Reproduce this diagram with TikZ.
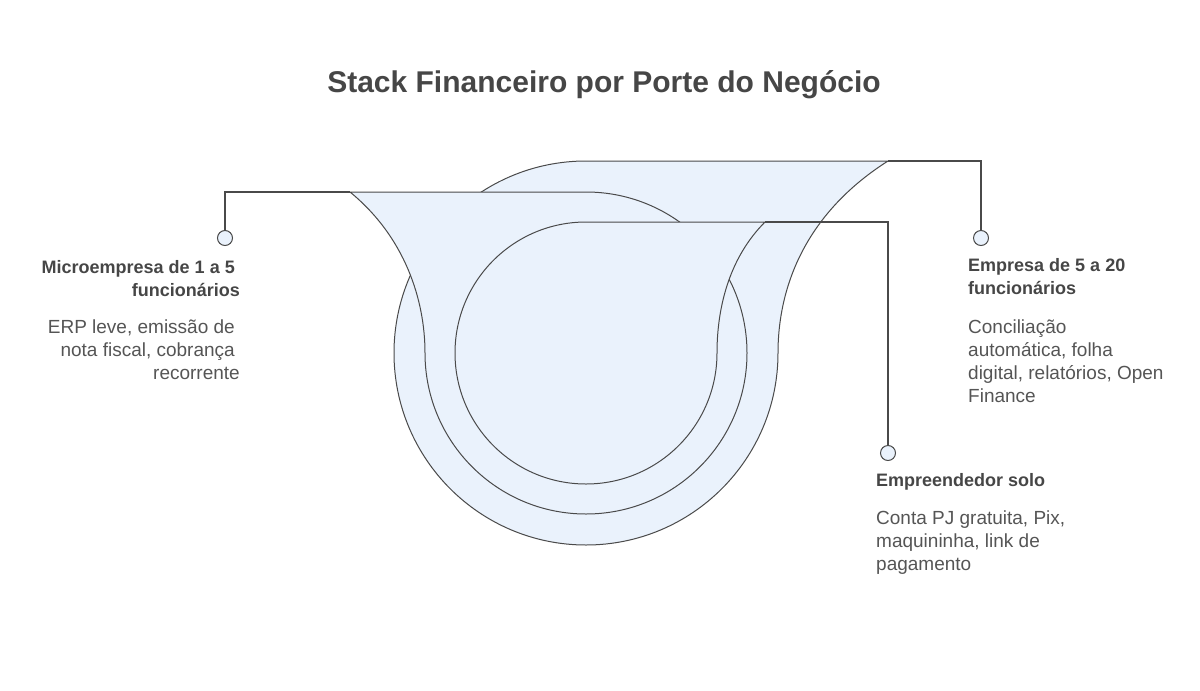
\documentclass[tikz,border=0pt]{standalone}
\usepackage{fontspec}
\setmainfont{Liberation Sans}
\definecolor{shell}{HTML}{EAF2FC}
\definecolor{ink}{HTML}{464646}
\definecolor{soft}{HTML}{555555}
\definecolor{edge}{HTML}{4A4A4A}

\begin{document}
\begin{tikzpicture}[
    x=1pt, y=1pt,
    layer/.style={draw=edge, fill=shell, line width=1pt},
    lead/.style={draw=edge, line width=1.2pt},
    dot/.style={circle, draw=edge, fill=shell, line width=1pt, minimum size=15pt, inner sep=0pt},
    head/.style={font=\fontsize{18}{23}\selectfont\bfseries, text=ink, inner sep=0pt},
    desc/.style={font=\fontsize{19}{23}\selectfont, text=soft, inner sep=0pt}
  ]
  \useasboundingbox (0,0) rectangle (1200,-691);

  \node[font=\fontsize{30}{36}\selectfont\bfseries, text=ink, anchor=base] (title) at (604,-92) {Stack Financeiro por Porte do Negócio};

  % layers, back to front
  \draw[layer] (586,-161) -- (888,-161) .. controls (803,-215) and (778,-290) .. (778,-353)
    arc[start angle=0, end angle=-270, radius=192] -- cycle;
  \draw[layer] (586,-192) -- (350,-192) .. controls (405,-237) and (425,-300) .. (425,-353)
    arc[start angle=180, end angle=450, radius=161] -- cycle;
  \draw[layer] (586,-222) -- (765,-222) .. controls (728,-259) and (717,-310) .. (717,-353)
    arc[start angle=0, end angle=-270, radius=131] -- cycle;

  \coordinate (topA) at (888,-161);
  \coordinate (topB) at (350,-192);
  \coordinate (topC) at (765,-222);

  \node[dot] (dotA) at (981,-238) {};
  \node[dot] (dotB) at (225,-238) {};
  \node[dot] (dotC) at (888,-453) {};

  \draw[lead] (topA) -| (dotA);
  \draw[lead] (topB) -| (dotB);
  \draw[lead] (topC) -| (dotC);

  % labels
  \node[head, anchor=north east, align=right] (microHead) at (240,-260) {Microempresa de 1 a 5\kern5pt\\funcionários};
  \node[desc, anchor=north east, align=right] (microDesc) at (240,-320) {ERP leve, emissão de\kern5pt\\nota fiscal, cobrança\kern5pt\\recorrente};

  \node[head, anchor=north west, align=left] (empHead) at (968,-258) {Empresa de 5 a 20\\funcionários};
  \node[desc, anchor=north west, align=left] (empDesc) at (968,-320) {Conciliação\\automática, folha\\digital, relatórios, Open\\Finance};

  \node[head, anchor=north west, align=left] (soloHead) at (876,-473) {Empreendedor solo};
  \node[desc, anchor=north west, align=left] (soloDesc) at (876,-511) {Conta PJ gratuita, Pix,\\maquininha, link de\\pagamento};

\end{tikzpicture}
\end{document}
